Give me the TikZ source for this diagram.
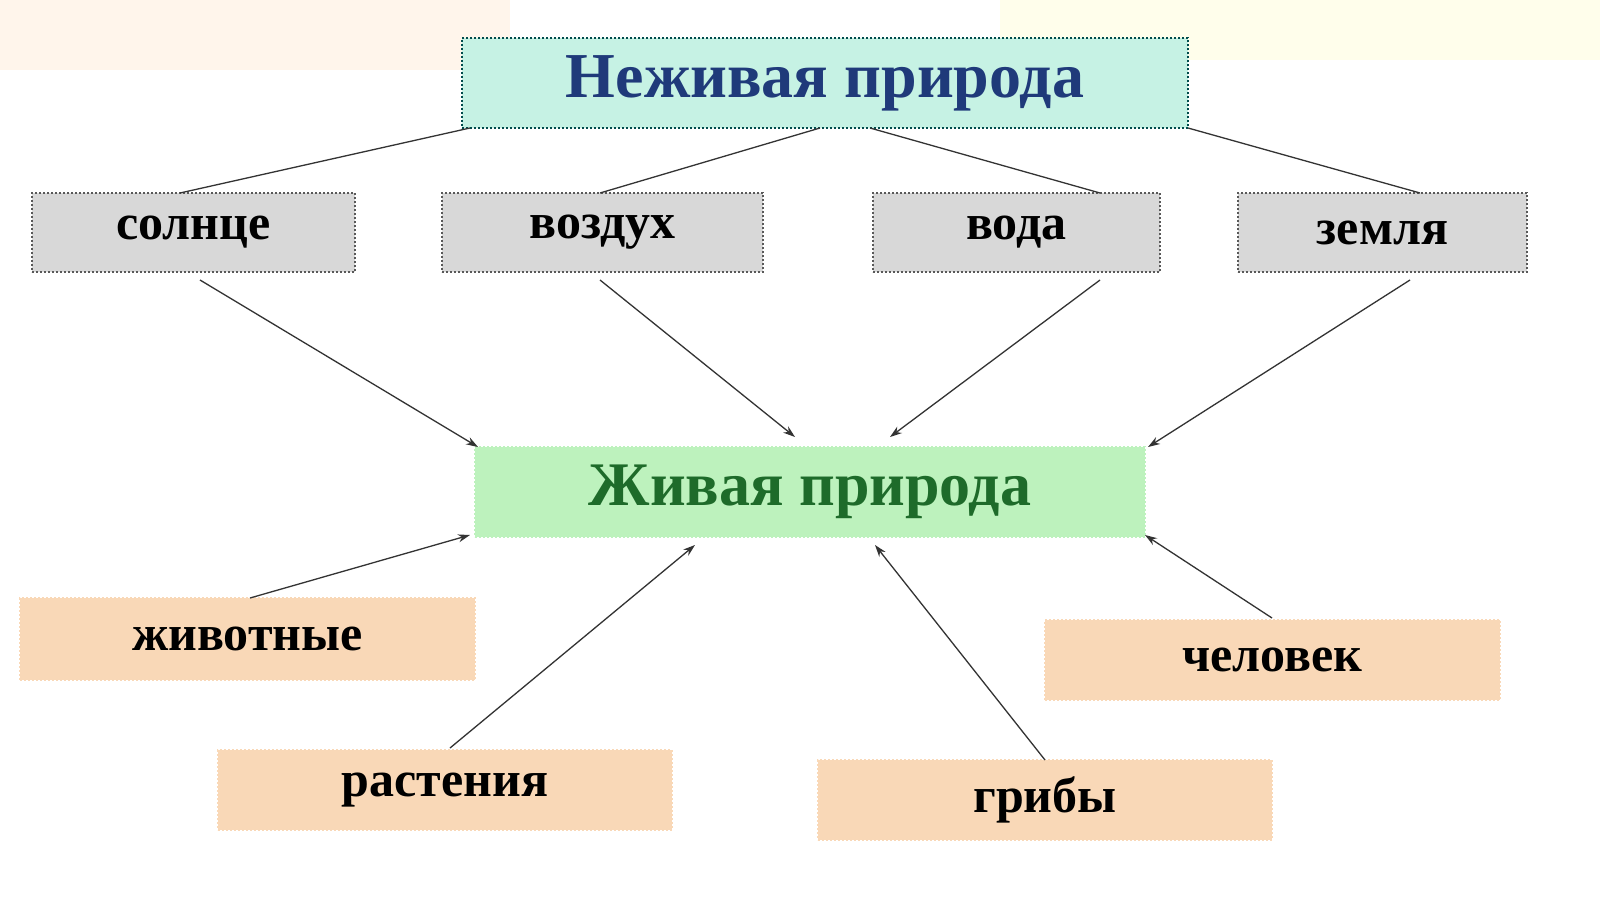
\documentclass[tikz,border=0pt]{standalone}
\usepackage{fontspec}
\setmainfont{Liberation Serif}
\usetikzlibrary{arrows.meta}
\begin{document}
\begin{tikzpicture}[x=1pt,y=-1pt,
 box/.style={draw=#1,dotted,line width=2pt,inner sep=0pt,font=\bfseries\fontsize{50}{50}\selectfont},
 ln/.style={draw=black!80,line width=1.3pt},
 arr/.style={ln,-{Stealth[length=12pt,width=8pt]}}]
\useasboundingbox (0,0) rectangle (1600,899);
\fill[white] (0,0) rectangle (1600,899);
\fill[orange!8] (0,0) rectangle (510,70);
\fill[yellow!8] (1000,0) rectangle (1600,60);
\definecolor{teal1}{HTML}{C6F2E4}\definecolor{gray1}{HTML}{D8D8D8}
\definecolor{green1}{HTML}{BDF2BD}\definecolor{peach}{HTML}{F9D8B7}
\definecolor{tblue}{HTML}{1F3A7A}\definecolor{tgreen}{HTML}{1E6B2A}
\node[box=teal!60!black,fill=teal1,minimum width=726pt,minimum height=90pt,text=tblue,font=\bfseries\fontsize{64}{64}\selectfont] (top) at (825,83) {Неживая природа};
\node[box=gray!70!black,fill=gray1,minimum width=323pt,minimum height=79pt] (s) at (193.5,232.5) {солнце};
\node[box=gray!70!black,fill=gray1,minimum width=321pt,minimum height=79pt] (v) at (602.5,232.5) {воздух};
\node[box=gray!70!black,fill=gray1,minimum width=287pt,minimum height=79pt] (w) at (1016.5,232.5) {вода};
\node[box=gray!70!black,fill=gray1,minimum width=289pt,minimum height=79pt] (z) at (1382.5,232.5) {земля};
\node[box=green1,fill=green1,minimum width=670pt,minimum height=90pt,text=tgreen,font=\bfseries\fontsize{62}{62}\selectfont] (live) at (810,492) {Живая природа};
\node[box=peach,fill=peach,minimum width=455pt,minimum height=82pt] (an) at (247.5,639) {животные};
\node[box=peach,fill=peach,minimum width=454pt,minimum height=80pt] (pl) at (445,790) {растения};
\node[box=peach,fill=peach,minimum width=454pt,minimum height=80pt] (fu) at (1045,800) {грибы};
\node[box=peach,fill=peach,minimum width=455pt,minimum height=80pt] (hu) at (1272.5,660) {человек};
\coordinate (t1) at (470,128);\coordinate (t2) at (820,128);\coordinate (t3) at (870,128);\coordinate (t4) at (1188,128);
\coordinate (s1) at (180,193);\coordinate (v1) at (600,193);\coordinate (w1) at (1100,193);\coordinate (z1) at (1420,193);
\draw[ln] (t1)--(s1); \draw[ln] (t2)--(v1); \draw[ln] (t3)--(w1); \draw[ln] (t4)--(z1);
\coordinate (s2) at (200,280);\coordinate (v2) at (600,280);\coordinate (w2) at (1100,280);\coordinate (z2) at (1410,280);
\coordinate (l1) at (478,447);\coordinate (l2) at (795,437);\coordinate (l3) at (890,437);\coordinate (l4) at (1148,447);
\draw[arr] (s2)--(l1); \draw[arr] (v2)--(l2); \draw[arr] (w2)--(l3); \draw[arr] (z2)--(l4);
\coordinate (a1) at (250,598);\coordinate (p1) at (450,748);\coordinate (f1) at (1045,760);\coordinate (h1) at (1272,618);
\coordinate (b1) at (470,535);\coordinate (b2) at (695,545);\coordinate (b3) at (875,545);\coordinate (b4) at (1145,535);
\draw[arr] (a1)--(b1); \draw[arr] (p1)--(b2); \draw[arr] (f1)--(b3); \draw[arr] (h1)--(b4);
\end{tikzpicture}
\end{document}
